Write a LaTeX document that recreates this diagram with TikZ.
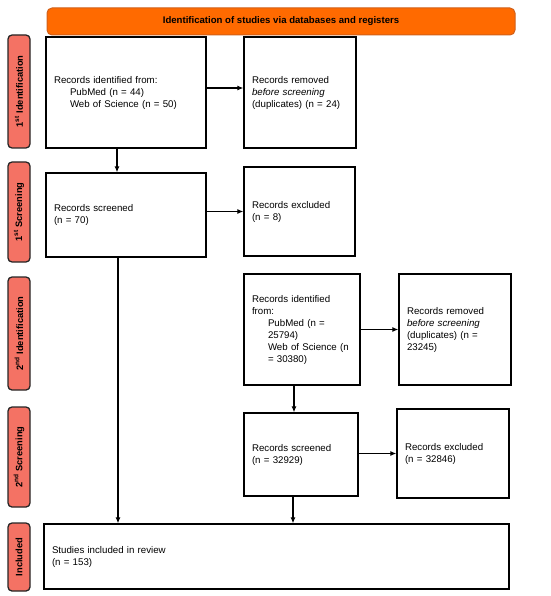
\documentclass[tikz,border=0pt]{standalone}
\usepackage{fontspec}
\setmainfont{Liberation Sans}
\usetikzlibrary{arrows.meta}
\definecolor{hdrorange}{HTML}{FF6A00}
\definecolor{hdredge}{HTML}{D0601A}
\definecolor{phasered}{HTML}{F47264}
\tikzset{
  recbox/.style={draw, line width=1.3pt, align=left, inner xsep=8pt, inner ysep=0pt, font=\fontsize{9.7}{12}\selectfont},
  phase/.style={draw=black!85, fill=phasered, line width=1.3pt, rounded corners=4pt, rotate=90, minimum height=22pt, inner sep=0pt, font=\bfseries\fontsize{9.3}{11}\selectfont},
  flow/.style={-{Latex[length=6pt,width=5pt]}, line width=1.1pt}
}

\begin{document}
\begin{tikzpicture}[x=1pt,y=-1pt]
\useasboundingbox (0,0) rectangle (550,596);
\node[draw=hdredge, fill=hdrorange, rounded corners=5pt, line width=1pt, minimum width=468pt, minimum height=27pt, font=\bfseries\fontsize{9.6}{11}\selectfont] (header) at (281,21.5) {Identification of studies via databases and registers};
\node[phase, minimum width=113pt] (phIdOne) at (19,91.5) {1\textsuperscript{st} Identification};
\node[phase, minimum width=100pt] (phScrOne) at (19,212) {1\textsuperscript{st} Screening};
\node[phase, minimum width=113pt] (phIdTwo) at (19,333.5) {2\textsuperscript{nd} Identification};
\node[phase, minimum width=100pt] (phScrTwo) at (19,457) {2\textsuperscript{nd} Screening};
\node[phase, minimum width=68pt] (phIncl) at (19,557) {Included};
\node[recbox, text width=144pt, minimum height=111pt] (idOne) at (126,92.5) {Records identified from:\\ \hspace*{16pt}PubMed (n = 44)\\ \hspace*{16pt}Web of Science (n = 50)};
\node[recbox, text width=96pt, minimum height=111pt] (remOne) at (300,92.5) {Records removed\\ \textit{before screening}\\ (duplicates) (n = 24)};
\node[recbox, text width=144pt, minimum height=84pt] (scrOne) at (126,215) {Records screened\\ (n = 70)};
\node[recbox, text width=95pt, minimum height=89pt] (exclOne) at (299.5,211.5) {Records excluded\\ (n = 8)};
\node[recbox, text width=100pt, minimum height=111pt] (idTwo) at (302,329.5) {Records identified\\ from:\\ \hspace*{16pt}PubMed (n =\\ \hspace*{16pt}25794)\\ \hspace*{16pt}Web of Science (n\\ \hspace*{16pt}= 30380)};
\node[recbox, text width=96pt, minimum height=111pt] (remTwo) at (455,329.5) {Records removed\\ \textit{before screening}\\ (duplicates) (n =\\ 23245)};
\node[recbox, text width=98pt, minimum height=83pt] (scrTwo) at (301,454.5) {Records screened\\ (n = 32929)};
\node[recbox, text width=96pt, minimum height=89pt] (exclTwo) at (453,453.5) {Records excluded\\ (n = 32846)};
\node[recbox, text width=449pt, minimum height=65pt] (incl) at (276.5,556.5) {Studies included in review\\ (n = 153)};
\draw[flow] ([yshift=4.5pt]idOne.east) -- ([yshift=4.5pt]remOne.west);
\draw[flow] ([xshift=-9pt]idOne.south) -- ([xshift=-9pt]scrOne.north);
\draw[flow] (scrOne.east |- exclOne.west) -- (exclOne.west);
\draw[flow] ([xshift=-8pt]scrOne.south) -- ([xshift=-8pt]scrOne.south |- incl.north);
\draw[flow] (idTwo.east) -- (remTwo.west);
\draw[flow] ([xshift=-8pt]idTwo.south) -- ([xshift=-8pt]idTwo.south |- scrTwo.north);
\draw[flow] (scrTwo.east |- exclTwo.west) -- (exclTwo.west);
\draw[flow] ([xshift=-8pt]scrTwo.south) -- ([xshift=-8pt]scrTwo.south |- incl.north);
\end{tikzpicture}
\end{document}
